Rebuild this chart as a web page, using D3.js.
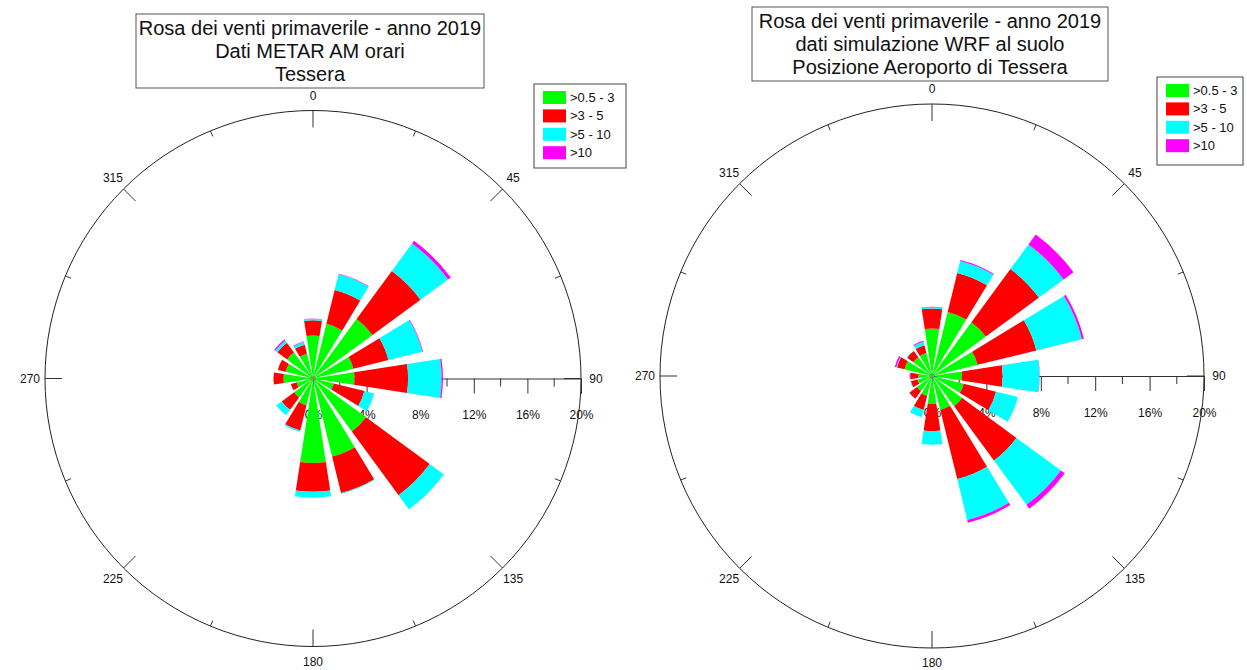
<!DOCTYPE html>
<html>
<head>
<meta charset="utf-8">
<script src="https://cdn.jsdelivr.net/npm/d3@7"></script>
<style>
  html, body { margin: 0; padding: 0; background: #fff; }
  svg { display: block; font-family: "Liberation Sans", Arial, sans-serif; }
</style>
</head>
<body>
<svg id="chart" width="1247" height="670"></svg>
<script>
// Wind directions (degrees from north, clockwise)
const directions = [0, 22.5, 45, 67.5, 90, 112.5, 135, 157.5, 180, 202.5, 225, 247.5, 270, 292.5, 315, 337.5];

// Speed classes (m/s) and their colours
const speedClasses = [">0.5 - 3", ">3 - 5", ">5 - 10", ">10"];
const classColors = ["#00ff00", "#ff0000", "#00ffff", "#ff00ff"];

// Frequencies (%) per direction — hourly METAR observations, Tessera
const metar_05_3 = [3.2, 4.2, 5.5, 3.1, 3.1, 1.6, 4.9, 6.0, 6.3, 2.05, 1.75, 1.25, 2.2, 2.1, 2.4, 1.9];
const metar_3_5  = [1.15, 2.6, 4.45, 2.7, 4.0, 2.35, 5.9, 2.8, 2.15, 1.95, 1.15, 0.45, 0.75, 0.6, 0.9, 0.7];
const metar_5_10 = [0.1, 1.2, 2.55, 2.6, 2.5, 0.75, 1.3, 0.05, 0.45, 0.1, 0.5, 0, 0, 0, 0.2, 0.2];
const metar_10   = [0.03, 0.05, 0.25, 0.05, 0.1, 0, 0, 0, 0, 0, 0, 0, 0, 0, 0.1, 0.05];

// Frequencies (%) per direction — WRF surface simulation at the airport position
const wrf_05_3 = [3.5, 4.85, 4.9, 3.45, 2.2, 2.4, 2.75, 2.55, 2.05, 1.5, 1.37, 1.1, 1.0, 2.08, 1.7, 1.73];
const wrf_3_5  = [1.47, 2.95, 4.85, 4.45, 3.0, 2.45, 4.95, 5.25, 2.0, 1.07, 0.7, 0.5, 0.6, 0.57, 0.57, 0.59];
const wrf_5_10 = [0.08, 0.9, 2.25, 3.45, 2.7, 1.65, 4.05, 3.1, 1.0, 0.55, 0.03, 0.05, 0, 0.05, 0.03, 0.28];
const wrf_10   = [0.05, 0.08, 0.9, 0.15, 0.02, 0, 0.35, 0.2, 0, 0, 0, 0, 0.05, 0.12, 0, 0.06];

// Radial axis ticks (%) and compass labels
const radialTicks = [0, 4, 8, 12, 16, 20];
const radialMinorTicks = [2, 6, 10, 14, 18];
const radialTickLabels = ["0%", "4%", "8%", "12%", "16%", "20%"];
const compassAngles = [0, 45, 90, 135, 180, 225, 270, 315];
const compassMinorAngles = [22.5, 67.5, 112.5, 157.5, 202.5, 247.5, 292.5, 337.5];

const titleMetar = ["Rosa dei venti primaverile - anno 2019", "Dati METAR AM orari", "Tessera"];
const titleWrf = ["Rosa dei venti primaverile - anno 2019", "dati simulazione WRF al suolo", "Posizione Aeroporto di Tessera"];

const svg = d3.select("#chart");
svg.append("rect").attr("width", 1247).attr("height", 670).attr("fill", "#fff");

const rad = d => d * Math.PI / 180;
const classKeys = ["c0", "c1", "c2", "c3"];

function drawRose(cfg) {
  const g = svg.append("g").attr("transform", `translate(${cfg.cx},${cfg.cy})`);
  const r = d3.scaleLinear().domain([0, 20]).range([0, cfg.R]);

  // outer circle
  g.append("circle").attr("r", cfg.R).attr("fill", "none").attr("stroke", "#222").attr("stroke-width", 1);

  // compass ticks
  const pt = (a, rr) => [Math.sin(rad(a)) * rr, -Math.cos(rad(a)) * rr];
  g.selectAll(".cmaj").data(compassAngles).join("line")
    .attr("x1", a => pt(a, cfg.R)[0]).attr("y1", a => pt(a, cfg.R)[1])
    .attr("x2", a => pt(a, cfg.R - 17)[0]).attr("y2", a => pt(a, cfg.R - 17)[1])
    .attr("stroke", "#333").attr("stroke-width", 1);
  g.selectAll(".cmin").data(compassMinorAngles).join("line")
    .attr("x1", a => pt(a, cfg.R)[0]).attr("y1", a => pt(a, cfg.R)[1])
    .attr("x2", a => pt(a, cfg.R - 6)[0]).attr("y2", a => pt(a, cfg.R - 6)[1])
    .attr("stroke", "#333").attr("stroke-width", 1);
  g.selectAll(".clab").data(compassAngles).join("text")
    .attr("x", a => pt(a, cfg.R + 15)[0]).attr("y", a => pt(a, cfg.R + 15)[1] + 4)
    .attr("text-anchor", "middle").attr("font-size", 12).attr("fill", "#111")
    .text(a => a);

  // radial axis along east direction
  const axis = d3.axisBottom(r).tickValues(radialTicks).tickFormat((d, i) => radialTickLabels[i]).tickSizeOuter(0).tickSize(15).tickPadding(17);
  const ax = g.append("g").call(axis);
  ax.select(".domain").attr("stroke", "#333");
  ax.selectAll(".tick line").attr("stroke", "#333");
  ax.selectAll(".tick text").attr("font-size", 12).attr("fill", "#111").attr("font-family", "Liberation Sans, Arial, sans-serif");
  ax.selectAll(".minor").data(radialMinorTicks).join("line")
    .attr("x1", d => r(d)).attr("x2", d => r(d)).attr("y1", 0).attr("y2", 8)
    .attr("stroke", "#333");

  // stacked wedges
  const rows = directions.map((d, i) => ({ dir: d, c0: cfg.series[0][i], c1: cfg.series[1][i], c2: cfg.series[2][i], c3: cfg.series[3][i] }));
  const stacked = d3.stack().keys(classKeys)(rows);
  const half = 8.75;
  const arc = d3.arc()
    .innerRadius(d => r(d[0]))
    .outerRadius(d => r(d[1]))
    .startAngle(d => rad(d.data.dir - half))
    .endAngle(d => rad(d.data.dir + half));
  stacked.forEach((layer, k) => {
    g.append("g").selectAll("path").data(layer.filter(d => d[1] > d[0])).join("path")
      .attr("d", arc).attr("fill", classColors[k]);
  });
  g.append("circle").attr("r", 3).attr("fill", "#5f9a55").attr("opacity", 0.8);

  // title box
  const tb = cfg.titleBox;
  svg.append("rect").attr("x", tb.x).attr("y", tb.y).attr("width", tb.w).attr("height", tb.h)
    .attr("fill", "#fff").attr("stroke", "#555").attr("stroke-width", 1);
  svg.append("g").selectAll("text").data(cfg.title).join("text")
    .attr("x", tb.x + tb.w / 2).attr("y", (d, i) => tb.y + 21 + i * 23)
    .attr("text-anchor", "middle").attr("font-size", 20).attr("fill", "#111").text(d => d);

  // legend
  const lg = svg.append("g").attr("transform", `translate(${cfg.legend.x},${cfg.legend.y})`);
  lg.append("rect").attr("width", cfg.legend.w).attr("height", cfg.legend.h)
    .attr("fill", "#fff").attr("stroke", "#444").attr("stroke-width", 1);
  const items = lg.selectAll(".it").data(speedClasses).join("g")
    .attr("transform", (d, i) => `translate(9,${7 + i * 18.4})`);
  items.append("rect").attr("width", 23).attr("height", 13).attr("fill", (d, i) => classColors[i]);
  items.append("text").attr("x", 27).attr("y", 11).attr("font-size", 13).attr("fill", "#111").text(d => d);
}

drawRose({
  cx: 313, cy: 378.5, R: 268,
  series: [metar_05_3, metar_3_5, metar_5_10, metar_10],
  title: titleMetar,
  titleBox: { x: 136, y: 14, w: 348, h: 74 },
  legend: { x: 534, y: 84, w: 92, h: 84 }
});

drawRose({
  cx: 932, cy: 376, R: 272,
  series: [wrf_05_3, wrf_3_5, wrf_5_10, wrf_10],
  title: titleWrf,
  titleBox: { x: 752, y: 7, w: 356, h: 74 },
  legend: { x: 1157, y: 77, w: 86, h: 88 }
});
</script>
</body>
</html>
